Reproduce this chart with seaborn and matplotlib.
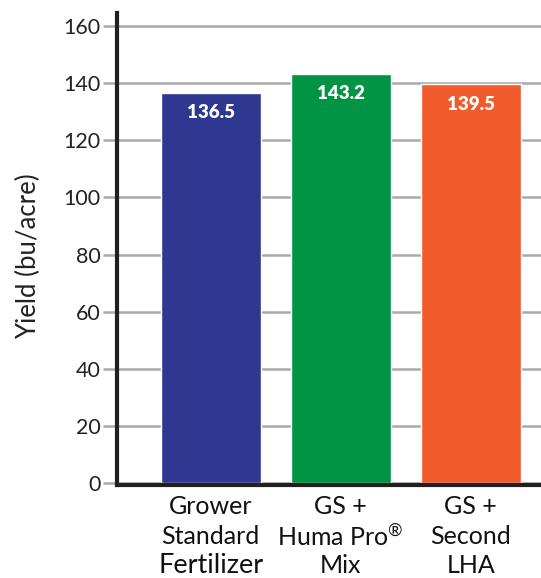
import matplotlib
matplotlib.use("Agg")
import matplotlib.pyplot as plt
import seaborn as sns
import pandas as pd

categories = ["Grower Standard Fertilizer", "GS + Huma Pro® Mix", "GS + Second LHA"]
label_lines = [["Grower", "Standard", "Fertilizer"],
               ["GS +", r"Huma Pro$^{\circledR}$", "Mix"],
               ["GS +", "Second", "LHA"]]
yields = [136.5, 143.2, 139.5]
bar_colors = ["#2E3890", "#009444", "#F15A2B"]
yticks = [0, 20, 40, 60, 80, 100, 120, 140, 160]

df = pd.DataFrame({"cat": categories, "yield": yields})

sns.set_theme(style="white")
plt.rcParams['font.family'] = ['Lato', 'DejaVu Sans']
plt.rcParams['mathtext.fontset'] = 'custom'
plt.rcParams['mathtext.rm'] = 'Lato'

fig = plt.figure(figsize=(5.41, 5.78), dpi=100)
ax = fig.add_axes([117/541, 1-485/578, 1-117/541, (485-13)/578])

sns.barplot(data=df, x="cat", y="yield", hue="cat", palette=bar_colors,
            width=0.77, legend=False, ax=ax, saturation=1, zorder=3)

ax.set_xlim(-0.72, 2.54)
ax.set_ylim(-0.6, 164.5)
ax.set_yticks(yticks)
ax.set_yticklabels([str(t) for t in yticks], fontsize=15.5, color="#222222")
ax.yaxis.grid(True, color="#AAAAAA", linewidth=1.8, zorder=0)
ax.tick_params(axis="y", length=10, width=1.8, color="#AAAAAA", pad=2, left=True)
ax.set_xticks(range(len(categories)))
ax.set_xticklabels([])
ax.tick_params(axis="x", length=0)
ax.set_xlabel("")
ax.set_ylabel("Yield (bu/acre)", fontsize=18.5, color="#222222")
ax.yaxis.set_label_coords(-0.178, 0.485)

for s in ["top", "right"]:
    ax.spines[s].set_visible(False)
for s in ["left", "bottom"]:
    ax.spines[s].set_color("#231F20")
    ax.spines[s].set_linewidth(3)
    ax.spines[s].set_zorder(5)

offsets = [-14, -36, -56.5]
for i, lines in enumerate(label_lines):
    for j, line in enumerate(lines):
        size = 19.5 if line == "Fertilizer" else 18
        ax.annotate(line, xy=(i, 0), xycoords=("data", "axes fraction"),
                    xytext=(0, offsets[j]), textcoords="offset points",
                    ha="center", va="center_baseline", fontsize=size, color="#111111")

for i, v in enumerate(yields):
    ax.text(i, v - 4, f"{v:.1f}", ha="center", va="top", color="white",
            fontsize=13.5, fontweight="heavy", zorder=6)

fig.savefig("out.png", dpi=100)
